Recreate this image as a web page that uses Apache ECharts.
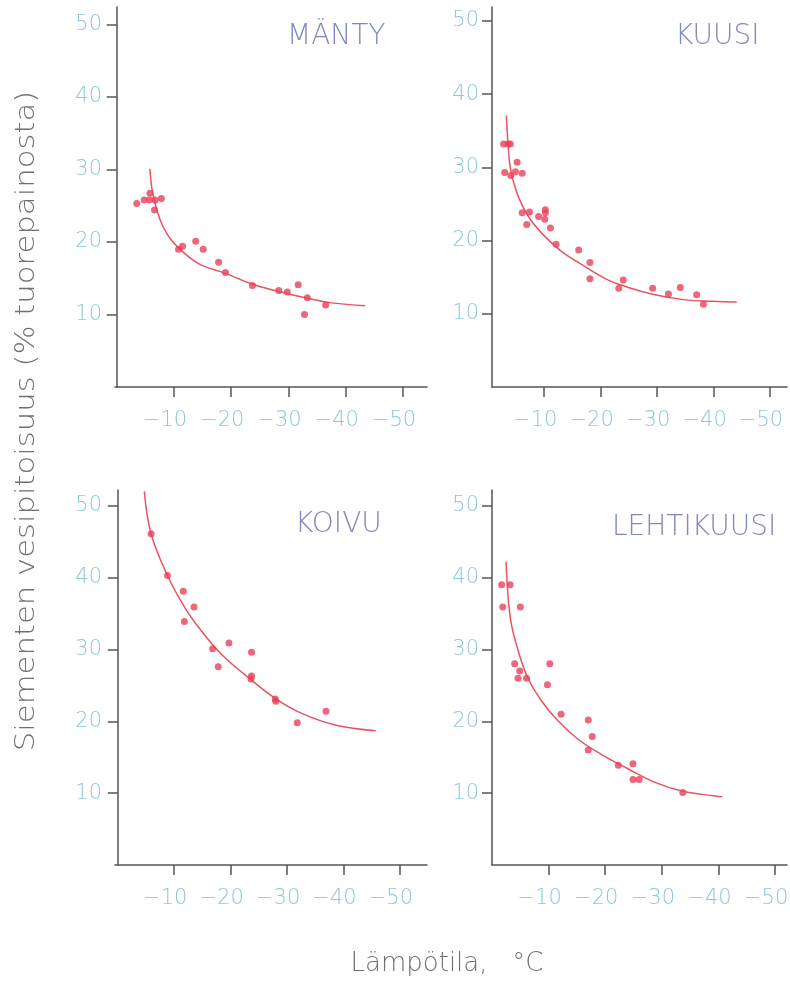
<!DOCTYPE html>
<html>
<head>
<meta charset="utf-8">
<script src="https://cdn.jsdelivr.net/npm/echarts@6/dist/echarts.min.js"></script>
<style>
html,body{margin:0;padding:0;background:#fff;}
#chart{width:790px;height:983px;}
</style>
</head>
<body>
<div id="chart"></div>
<script>
// ---- Data (temperature °C, water content % of fresh weight) ----
const xTickValues = [-10, -20, -30, -40, -50];
const yTickValues = [10, 20, 30, 40, 50];
const panelTitles = ['MÄNTY', 'KUUSI', 'KOIVU', 'LEHTIKUUSI'];

const mantyPoints = [[-3.5,25.3],[-4.8,25.8],[-5.8,26.7],[-5.7,25.8],[-6.7,25.8],[-6.6,24.4],[-7.8,26.0],
  [-10.8,19.0],[-11.5,19.4],[-13.8,20.1],[-15.1,19.0],[-17.8,17.2],[-19.0,15.8],[-23.7,14.0],
  [-28.3,13.3],[-29.8,13.1],[-31.7,14.1],[-33.3,12.3],[-32.8,10.0],[-36.5,11.3]];
const mantyCurve = [[-5.8,30.1],[-6.2,27.1],[-7.0,24.4],[-8.1,22.1],[-9.6,20.2],[-11.9,18.4],[-14.8,16.8],
  [-18.9,15.7],[-23.6,14.2],[-28.2,13.2],[-32.9,12.3],[-37.6,11.6],[-43.4,11.2]];

const kuusiPoints = [[-2.8,33.2],[-3.6,33.2],[-4.0,33.2],[-5.2,30.7],[-3.0,29.3],[-4.1,28.9],[-4.9,29.4],[-6.1,29.2],
  [-6.1,23.8],[-7.4,23.9],[-6.9,22.2],[-9.0,23.3],[-10.2,24.2],[-10.2,23.8],[-10.1,22.9],[-11.1,21.7],
  [-12.1,19.5],[-16.1,18.7],[-18.1,17.0],[-18.1,14.8],[-23.2,13.5],[-24.0,14.6],[-29.2,13.5],
  [-32.0,12.7],[-34.1,13.6],[-37.0,12.6],[-38.2,11.3]];
const kuusiCurve = [[-3.3,37.1],[-3.6,33.0],[-4.0,29.9],[-4.9,27.1],[-6.1,24.8],[-7.8,22.6],[-10.2,20.5],
  [-13.1,18.5],[-16.7,16.7],[-20.8,14.8],[-24.9,13.6],[-29.6,12.6],[-35.0,11.9],[-39.7,11.7],[-44.1,11.6]];

const koivuPoints = [[-5.9,46.1],[-8.8,40.3],[-11.6,38.1],[-13.5,35.9],[-11.8,33.9],[-16.8,30.1],[-19.7,30.9],
  [-17.8,27.6],[-23.7,29.6],[-23.7,26.3],[-23.6,25.9],[-27.9,23.1],[-28.0,22.8],[-31.8,19.8],[-36.9,21.4]];
const koivuCurve = [[-4.7,52.0],[-5.9,46.1],[-8.8,40.3],[-11.9,35.8],[-14.9,32.5],[-18.4,29.3],[-22.5,26.5],
  [-27.9,23.2],[-32.6,21.1],[-38.5,19.5],[-45.7,18.7]];

const lehtikuusiPoints = [[-1.7,39.0],[-3.2,39.0],[-1.9,35.9],[-5.0,35.9],[-4.0,28.0],[-4.9,27.0],[-4.6,26.0],
  [-6.1,26.0],[-10.2,28.0],[-9.8,25.1],[-12.2,21.0],[-17.0,20.2],[-17.7,17.9],[-17.0,16.0],[-22.3,13.9],
  [-24.9,14.1],[-24.9,11.9],[-26.0,11.9],[-33.7,10.1]];
const lehtikuusiCurve = [[-2.5,42.2],[-2.8,37.8],[-3.4,33.6],[-4.6,29.9],[-6.3,26.1],[-8.7,22.9],[-11.6,20.1],
  [-15.2,17.5],[-19.3,15.4],[-24.0,13.4],[-28.8,11.5],[-33.5,10.3],[-39.4,9.6],[-40.7,9.5]];

// ---- Layout ----
const panels = [
  {grid:{left:115, top:7,   width:312, height:380}, x:[-54.2, 0.3], y:[0, 52.4], pts:mantyPoints, curve:mantyCurve, title:[287, 37]},
  {grid:{left:492, top:7,   width:295, height:380}, x:[-53.0,-0.75], y:[0, 51.9], pts:kuusiPoints, curve:kuusiCurve, title:[675, 37]},
  {grid:{left:115, top:490, width:312, height:375}, x:[-54.8, 0.5], y:[0, 52.2], pts:koivuPoints, curve:koivuCurve, title:[295, 525]},
  {grid:{left:492, top:490, width:295, height:375}, x:[-52.1, 0.0], y:[0, 52.2], pts:lehtikuusiPoints, curve:lehtikuusiCurve, title:[612, 528]}
];

const FONT = "'DejaVu Sans'";
const W = 200;
const TEAL = '#8dc8d5';
const AXIS = '#555555';
const RED = '#e8405a';

const option = {
  animation: false,
  backgroundColor: '#ffffff',
  grid: panels.map(p => Object.assign({containLabel: false, outerBoundsMode: 'none'}, p.grid)),
  xAxis: panels.map((p, i) => ({
    type: 'value', gridIndex: i, inverse: true, min: p.x[0], max: p.x[1],
    axisLine: {show: true, lineStyle: {color: AXIS, width: 1.5}},
    axisTick: {show: true, length: 10, lineStyle: {color: AXIS, width: 1.5}, customValues: xTickValues},
    axisLabel: {show: true, customValues: xTickValues, color: TEAL, fontSize: 21, fontFamily: FONT, fontWeight: W,
      margin: 23, padding: [0, 18, 0, 0], hideOverlap: false, formatter: v => '\u2212' + Math.abs(v)},
    splitLine: {show: false}
  })),
  yAxis: panels.map((p, i) => ({
    type: 'value', gridIndex: i, min: p.y[0], max: p.y[1],
    axisLine: {show: true, lineStyle: {color: AXIS, width: 1.5}},
    axisTick: {show: true, length: 10, lineStyle: {color: AXIS, width: 1.5}, customValues: yTickValues},
    axisLabel: {show: true, customValues: yTickValues, color: TEAL, fontSize: 21, fontFamily: FONT, fontWeight: W, margin: 13},
    splitLine: {show: false}
  })),
  series: [].concat(...panels.map((p, i) => [
    {type: 'line', xAxisIndex: i, yAxisIndex: i, data: p.curve, smooth: 0.4, showSymbol: false, symbol: 'none',
     lineStyle: {color: '#e8535f', width: 1.5}, z: 2},
    {type: 'scatter', xAxisIndex: i, yAxisIndex: i, data: p.pts, symbolSize: 7,
     itemStyle: {color: RED}, z: 3}
  ])),
  graphic: [
    ...panels.map((p, i) => ({
      type: 'text', x: p.title[0], y: p.title[1],
      style: {text: panelTitles[i], fill: '#8088c2', font: W + ' 28px ' + FONT, align: 'left', verticalAlign: 'middle'}
    })),
    {type: 'text', x: 27, y: 421, rotation: Math.PI / 2, scaleX: 1.18,
     style: {text: 'Siementen vesipitoisuus (% tuorepainosta)', fill: '#707070', font: W + ' 26px ' + FONT,
             align: 'center', verticalAlign: 'middle'}},
    {type: 'text', x: 447, y: 964,
     style: {text: 'Lämpötila,   °C', fill: '#707070', font: W + ' 26px ' + FONT, align: 'center', verticalAlign: 'middle'}}
  ]
};

const chart = echarts.init(document.getElementById('chart'), null, {renderer: 'canvas'});
chart.setOption(option);
</script>
</body>
</html>
